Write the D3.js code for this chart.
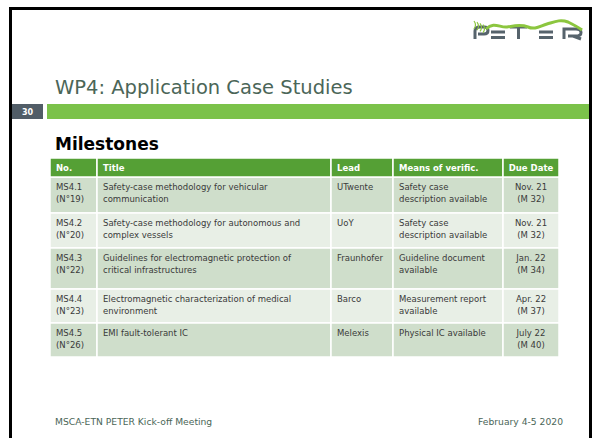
<!DOCTYPE html>
<html><head><meta charset="utf-8">
<script src="https://cdn.jsdelivr.net/npm/d3@7"></script>
<style>body{margin:0;background:#fff}svg{display:block}</style>
</head><body>
<script>
// ---- data ----
const slideTitle = "WP4: Application Case Studies";
const slideNumber = "30";
const sectionTitle = "Milestones";
const headers = ["No.", "Title", "Lead", "Means of verific.", "Due Date"];
const milestoneIds = [["MS4.1","(N°19)"],["MS4.2","(N°20)"],["MS4.3","(N°22)"],["MS4.4","(N°23)"],["MS4.5","(N°26)"]];
const titles = [["Safety-case methodology for vehicular","communication"],["Safety-case methodology for autonomous and","complex vessels"],["Guidelines for electromagnetic protection of","critical infrastructures"],["Electromagnetic characterization of medical","environment"],["EMI fault-tolerant IC"]];
const leads = [["UTwente"],["UoY"],["Fraunhofer"],["Barco"],["Melexis"]];
const means = [["Safety case","description available"],["Safety case","description available"],["Guideline document","available"],["Measurement report","available"],["Physical IC available"]];
const dueDates = [["Nov. 21","(M 32)"],["Nov. 21","(M 32)"],["Jan. 22","(M 34)"],["Apr. 22","(M 37)"],["July 22","(M 40)"]];
const footerLeft = "MSCA-ETN PETER Kick-off Meeting";
const footerRight = "February 4-5 2020";

// ---- layout ----
const W = 594, H = 438;
const FONT = "'DejaVu Sans', sans-serif";
const svg = d3.select("body").append("svg").attr("width", W).attr("height", H);

// frame
svg.append("path").attr("d", `M10.5,${H+2} V8.5 H590.5 V${H+2}`)
  .attr("fill","none").attr("stroke","#000").attr("stroke-width",3);

// logo (stylised PETER)
const logo = svg.append("g").attr("fill","none").attr("stroke-linecap","butt");
const gray = "#56636c", green = "#8cc63f";
logo.append("path").attr("stroke",gray).attr("stroke-width",3)
  .attr("d","M475,39 V31 Q475,27 480,27 H484 Q488,27 488,30.5 Q488,34 484,34 H478");
logo.append("path").attr("stroke",gray).attr("stroke-width",3)
  .attr("d","M491,32 H505 M491,37.5 H505");
logo.append("path").attr("stroke",gray).attr("stroke-width",3)
  .attr("d","M510,27 H527 M518.5,27 V39");
logo.append("path").attr("stroke",gray).attr("stroke-width",3)
  .attr("d","M539,32 H553 M539,37.5 H553");
logo.append("path").attr("stroke",gray).attr("stroke-width",3)
  .attr("d","M564,39 V29 H576 Q581,29 581,32.5 Q581,36 576,36 H568 M573,36 L581,39");
logo.append("path").attr("stroke",green).attr("stroke-width",3)
  .attr("d","M486,29 C494,21 500,28 507,27 C514,26 520,24 528,27 C535,30 540,26 547,24 C554,22 560,19 568,22 C574,25 578,27 582,30");
[0,3,6,9].forEach(i=>logo.append("path").attr("stroke",green).attr("stroke-width",1.2)
  .attr("d",`M${474+i},${21+i*0.4} q3,4 0,8`));

// title
svg.append("text").attr("x",55).attr("y",94).attr("font-family",FONT)
  .attr("font-size",19.5).attr("fill","#4b6658").text(slideTitle);

// number box + bar
svg.append("rect").attr("x",12).attr("y",104).attr("width",31).attr("height",15).attr("fill","#515d67");
svg.append("text").attr("x",27.5).attr("y",115).attr("text-anchor","middle").attr("font-family",FONT)
  .attr("font-size",8).attr("font-weight","bold").attr("fill","#fff").text(slideNumber);
svg.append("rect").attr("x",47).attr("y",104).attr("width",542).attr("height",15).attr("fill","#7bc24a");

// section heading
svg.append("text").attr("x",55).attr("y",150).attr("font-family",FONT)
  .attr("font-size",17).attr("font-weight","bold").attr("fill","#000").text(sectionTitle);

// table
const colEdges = [50, 97, 331, 393, 503, 559];
const rowEdges = [158, 177, 213, 248, 289, 323, 357];
const columns = [milestoneIds, titles, leads, means, dueDates];
const x = d3.scaleOrdinal().domain(d3.range(headers.length)).range(colEdges.slice(0,-1));
const colW = i => colEdges[i+1]-colEdges[i];
const y = d3.scaleOrdinal().domain(d3.range(-1, milestoneIds.length)).range(rowEdges.slice(0,-1));
const rowH = r => rowEdges[r+2]-rowEdges[r+1];

const tbl = svg.append("g");
d3.range(milestoneIds.length).forEach(r => {
  headers.forEach((h,c) => {
    tbl.append("rect").attr("x",x(c)).attr("y",y(r)).attr("width",colW(c)).attr("height",rowH(r))
      .attr("fill", r%2===0 ? "#cfdecb" : "#e8efe6").attr("stroke","#fff").attr("stroke-width",1.5);
    const lines = columns[c][r];
    const center = c===4;
    const t = tbl.append("text").attr("font-family",FONT).attr("font-size",8.5).attr("fill","#3a3a3a")
      .attr("text-anchor", center?"middle":"start");
    lines.forEach((ln,i)=>t.append("tspan").attr("x", center ? x(c)+colW(c)/2 : x(c)+6)
      .attr("y", y(r)+13+i*12).text(ln));
  });
});
headers.forEach((h,c)=>{
  tbl.append("rect").attr("x",x(c)).attr("y",y(-1)).attr("width",colW(c)).attr("height",rowH(-1))
    .attr("fill","#55a035").attr("stroke","#fff").attr("stroke-width",1.5);
  tbl.append("text").attr("x", c===4 ? x(c)+colW(c)/2 : x(c)+6).attr("y", y(-1)+13)
    .attr("text-anchor", c===4?"middle":"start")
    .attr("font-family",FONT).attr("font-size",8.5).attr("font-weight","bold").attr("fill","#fff").text(h);
});

// footer
svg.append("text").attr("x",55).attr("y",425).attr("font-family",FONT).attr("font-size",9.2)
  .attr("fill","#4b6658").text(footerLeft);
svg.append("text").attr("x",563).attr("y",425).attr("text-anchor","end").attr("font-family",FONT).attr("font-size",9.2)
  .attr("fill","#4b6658").text(footerRight);
</script>
</body></html>
